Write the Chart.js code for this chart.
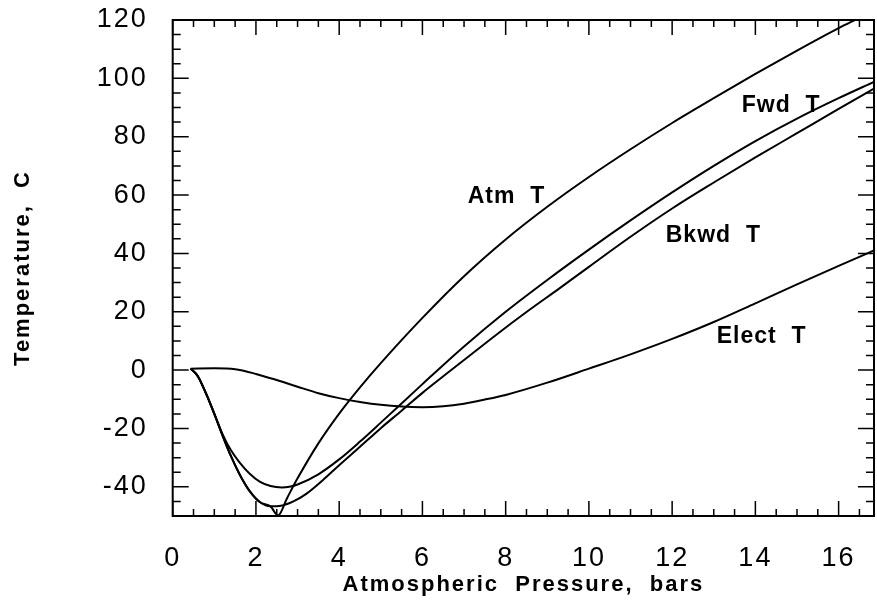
<!DOCTYPE html>
<html lang="en">
<head>
  <meta charset="UTF-8">
  <title>Temperature vs Atmospheric Pressure</title>
  <script src="https://cdn.jsdelivr.net/npm/chart.js"></script>
  <style>
    body { margin: 0; background: #fff; }
    canvas { display: block; }
  </style>
</head>
<body>
  <canvas id="tempChart" width="877" height="606"></canvas>

  <script>
    // values (x = bars, y = deg C)
    const atmX = [0.43, 0.6, 0.8, 1.0, 1.2, 1.4, 1.6, 1.85, 2.1, 2.35, 2.53, 2.75, 3.0, 3.5, 4.0, 4.5, 5.0, 6.0, 7.0, 8.0, 9.0, 10.0, 11.0, 12.0, 13.0, 14.0, 15.0, 16.0, 16.45];
    const atmY = [0.5, -2, -8, -15, -22.5, -29.5, -35.5, -41.5, -45.3, -46.7, -49.8, -43.8, -37.1, -25.1, -14.9, -5.9, 2.4, 17.9, 32.2, 44.8, 56.0, 66.2, 75.7, 84.7, 93.2, 101.5, 109.5, 117.2, 120.4];

    const fwdX = [0.43, 0.6, 0.8, 1.0, 1.2, 1.4, 1.6, 1.85, 2.1, 2.35, 2.62, 2.8, 3.0, 3.5, 4.0, 4.5, 5.0, 6.0, 7.0, 8.0, 9.0, 10.0, 11.0, 12.0, 13.0, 14.0, 15.0, 16.0, 16.85];
    const fwdY = [0.5, -2, -8, -15, -22, -27.5, -31.5, -35.5, -38.3, -39.7, -40.2, -40.0, -39.2, -35.7, -30.6, -24.5, -18.0, -4.8, 8.1, 20.0, 30.9, 41.3, 51.3, 60.9, 70.0, 78.5, 86.2, 93.2, 98.8];

    const bkwdX = [0.43, 0.6, 0.8, 1.0, 1.2, 1.4, 1.6, 1.85, 2.1, 2.35, 2.6, 2.9, 3.2, 3.6, 4.0, 4.5, 5.0, 5.5, 6.0, 6.6, 7.2, 7.8, 8.5, 9.3, 10.0, 11.0, 12.0, 13.0, 14.0, 15.0, 16.0, 16.85];
    const bkwdY = [0.5, -2, -8, -15, -22.5, -29.5, -35.5, -41.5, -45.3, -46.7, -46.5, -45.0, -42.5, -37.8, -32.6, -26.3, -19.9, -13.9, -7.8, -1.0, 5.7, 12.4, 19.9, 28.1, 35.4, 45.7, 55.4, 64.3, 72.9, 81.2, 89.5, 96.5];

    const electX = [0.43, 1.0, 1.5, 2.0, 2.5, 3.0, 3.5, 4.0, 4.5, 5.0, 5.5, 6.0, 6.5, 7.0, 7.5, 8.0, 9.0, 10.0, 11.0, 12.0, 13.0, 14.0, 15.0, 16.0, 16.85];
    const electY = [0.5, 0.6, 0.3, -1.3, -3.4, -5.7, -7.9, -9.6, -10.9, -11.9, -12.5, -12.7, -12.4, -11.5, -10.1, -8.5, -4.3, 0.5, 5.4, 10.7, 16.5, 22.9, 29.4, 35.7, 41.0];

    const xTickLabels = [0, 2, 4, 6, 8, 10, 12, 14, 16];
    const yTickLabels = [-40, -20, 0, 20, 40, 60, 80, 100, 120];

    // curve names written on the plot, placed in data units
    const curveNames = ['Atm  T', 'Fwd  T', 'Bkwd  T', 'Elect  T'];
    const nameAt = [[8.02, 59.4], [14.62, 90.8], [12.99, 46.2], [14.15, 11.5]];

    const FONT = '"Liberation Sans", Arial, Helvetica, sans-serif';

    function toPoints(xs, ys) {
      return xs.map((x, i) => ({ x: x, y: ys[i] }));
    }

    // old plotter look: spaced-out lettering
    const spacing = {
      id: 'spacing',
      beforeDraw(chart) { chart.ctx.letterSpacing = '2px'; },
      afterDraw(chart) { chart.ctx.letterSpacing = '0px'; }
    };

    // closed frame with inward ticks on all four sides
    const frameTicks = {
      id: 'frameTicks',
      afterDatasetsDraw(chart) {
        const { ctx, chartArea: a, scales: { x, y } } = chart;
        ctx.save();
        ctx.strokeStyle = '#000';
        ctx.lineWidth = 2;
        ctx.strokeRect(a.left, a.top, a.right - a.left, a.bottom - a.top);
        ctx.lineWidth = 1.5;
        ctx.beginPath();
        for (let v = 0; v <= x.max; v += 0.5) {
          const px = x.getPixelForValue(v);
          const len = v % 2 === 0 ? 15 : 7;
          ctx.moveTo(px, a.bottom); ctx.lineTo(px, a.bottom - len);
          ctx.moveTo(px, a.top); ctx.lineTo(px, a.top + len);
        }
        for (let v = y.min; v <= y.max; v += 5) {
          const py = y.getPixelForValue(v);
          const len = v % 20 === 0 ? 16 : 8;
          ctx.moveTo(a.left, py); ctx.lineTo(a.left + len, py);
          ctx.moveTo(a.right, py); ctx.lineTo(a.right - len, py);
        }
        ctx.stroke();
        ctx.restore();
      }
    };

    const curveLabels = {
      id: 'curveLabels',
      afterDatasetsDraw(chart) {
        const { ctx, scales: { x, y } } = chart;
        ctx.save();
        ctx.fillStyle = '#000';
        ctx.font = 'bold 23px ' + FONT;
        ctx.letterSpacing = '1px';
        ctx.textAlign = 'center';
        ctx.textBaseline = 'middle';
        curveNames.forEach((name, i) => {
          ctx.fillText(name, x.getPixelForValue(nameAt[i][0]), y.getPixelForValue(nameAt[i][1]));
        });
        ctx.restore();
      }
    };

    // keep the plot box where the original has it
    function noPad(s) {
      s.paddingTop = 0;
      s.paddingBottom = 0;
      s.paddingLeft = 0;
      s.paddingRight = 0;
    }

    const ctx = document.getElementById('tempChart').getContext('2d');

    const chart = new Chart(ctx, {
      type: 'scatter',
      data: {
        datasets: [
          { label: 'Atm T', data: toPoints(atmX, atmY) },
          { label: 'Fwd T', data: toPoints(fwdX, fwdY) },
          { label: 'Bkwd T', data: toPoints(bkwdX, bkwdY) },
          { label: 'Elect T', data: toPoints(electX, electY) }
        ]
      },
      options: {
        responsive: false,
        animation: false,
        devicePixelRatio: 1,
        showLine: true,
        layout: { padding: { top: 20, right: 3, left: 0, bottom: 0 } },
        elements: {
          point: { radius: 0, hoverRadius: 0 },
          line: { borderColor: '#000', borderWidth: 2, cubicInterpolationMode: 'monotone', fill: false }
        },
        plugins: {
          legend: { display: false },
          tooltip: { enabled: false }
        },
        scales: {
          x: {
            type: 'linear',
            min: 0,
            max: 16.85,
            grid: { display: false, drawTicks: false },
            border: { display: false },
            afterBuildTicks: s => { s.ticks = xTickLabels.map(v => ({ value: v })); },
            afterFit: s => { s.height = 90; noPad(s); },
            ticks: {
              color: '#000',
              font: { family: FONT, size: 27 },
              padding: 26,
              maxRotation: 0,
              autoSkip: false,
              callback: v => String(v)
            },
            title: {
              display: true,
              text: 'Atmospheric  Pressure,  bars',
              color: '#000',
              font: { family: FONT, size: 22, weight: 'bold', lineHeight: 1.2 },
              padding: { top: 0, bottom: 8 }
            }
          },
          y: {
            type: 'linear',
            min: -50,
            max: 120,
            grid: { display: false, drawTicks: false },
            border: { display: false },
            afterBuildTicks: s => { s.ticks = yTickLabels.map(v => ({ value: v })); },
            afterFit: s => { s.width = 172.7; noPad(s); },
            ticks: {
              color: '#000',
              font: { family: FONT, size: 27 },
              padding: 25,
              autoSkip: false,
              callback: v => String(v)
            },
            title: {
              display: true,
              text: 'Temperature,  C',
              color: '#000',
              font: { family: FONT, size: 22, weight: 'bold', lineHeight: 1.2 },
              padding: { top: 10, bottom: 0 }
            }
          }
        }
      },
      plugins: [spacing, frameTicks, curveLabels]
    });
  </script>
</body>
</html>
